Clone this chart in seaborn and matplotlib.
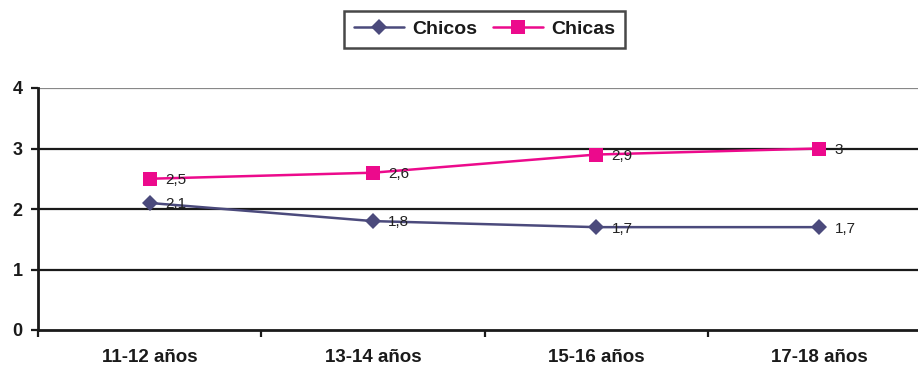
import numpy as np
import pandas as pd
import matplotlib
matplotlib.use("Agg")
import matplotlib.pyplot as plt
import seaborn as sns

categories = ["11-12 años", "13-14 años", "15-16 años", "17-18 años"]
chicos = [2.1, 1.8, 1.7, 1.7]
chicas = [2.5, 2.6, 2.9, 3.0]
series_names = ["Chicos", "Chicas"]
y_ticks = [0, 1, 2, 3, 4]

colors = {"Chicos": "#4b4a7c", "Chicas": "#ec0a8c"}
markers = {"Chicos": "D", "Chicas": "s"}
msizes = {"Chicos": 8.5, "Chicas": 10.5}

sns.set_theme(style="white")
plt.rcParams["font.family"] = ["Liberation Sans", "DejaVu Sans"]

pos = np.arange(len(categories))
df = pd.DataFrame({
    "x": np.concatenate([pos, pos]),
    "valor": chicos + chicas,
    "grupo": [series_names[0]] * len(pos) + [series_names[1]] * len(pos),
})

fig = plt.figure(figsize=(9.18, 3.67), dpi=100)
ax = fig.add_axes([38 / 918, 1 - 330 / 367, 893 / 918, 242 / 367])

for name in series_names:
    sub = df[df["grupo"] == name]
    sns.lineplot(data=sub, x="x", y="valor", ax=ax, color=colors[name],
                 marker=markers[name], markersize=msizes[name],
                 markeredgewidth=0, linewidth=1.8, label=name, zorder=3)
    for xv, yv in zip(sub["x"], sub["valor"]):
        ax.annotate(f"{yv:g}".replace(".", ","), (xv, yv), xytext=(11, -1),
                    textcoords="offset points", va="center", ha="left",
                    fontsize=11, color="#222222", zorder=4)

ax.set_xlim(-0.5, 3.5)
ax.set_ylim(0, 4)
ax.set_yticks(y_ticks)
ax.set_xticks(pos)
ax.set_xticklabels(categories)
ax.set_xticks(np.arange(-0.5, len(categories), 1.0), minor=True)
ax.set_xlabel("")
ax.set_ylabel("")

for yv in y_ticks[1:]:
    ax.axhline(yv, color="#888888" if yv == y_ticks[-1] else "#1a1a1a",
               linewidth=1.6, zorder=1)

for s in ["top", "right"]:
    ax.spines[s].set_visible(False)
for s in ["left", "bottom"]:
    ax.spines[s].set_color("#1a1a1a")
    ax.spines[s].set_linewidth(2)

ax.tick_params(axis="y", which="major", direction="out", length=5, width=1.6,
               color="#1a1a1a", pad=6, labelsize=13, left=True)
ax.tick_params(axis="x", which="major", length=0, pad=14, labelsize=13.5)
ax.tick_params(axis="x", which="minor", direction="out", length=5, width=1.6,
               color="#1a1a1a", bottom=True)
for lbl in ax.get_yticklabels() + ax.get_xticklabels():
    lbl.set_fontweight("bold")
    lbl.set_color("#1a1a1a")

leg = ax.legend(loc="center", bbox_to_anchor=(484.5 / 918, 1 - 29.5 / 367),
                bbox_transform=fig.transFigure, ncol=2, frameon=True,
                fancybox=False, prop={"weight": "bold", "size": 14},
                handlelength=2.6, columnspacing=0.8, handletextpad=0.4,
                borderpad=0.5)
leg.get_frame().set_edgecolor("#1a1a1a")
leg.get_frame().set_linewidth(1.8)
for t in leg.get_texts():
    t.set_color("#1a1a1a")

fig.savefig("out.png", dpi=100)
